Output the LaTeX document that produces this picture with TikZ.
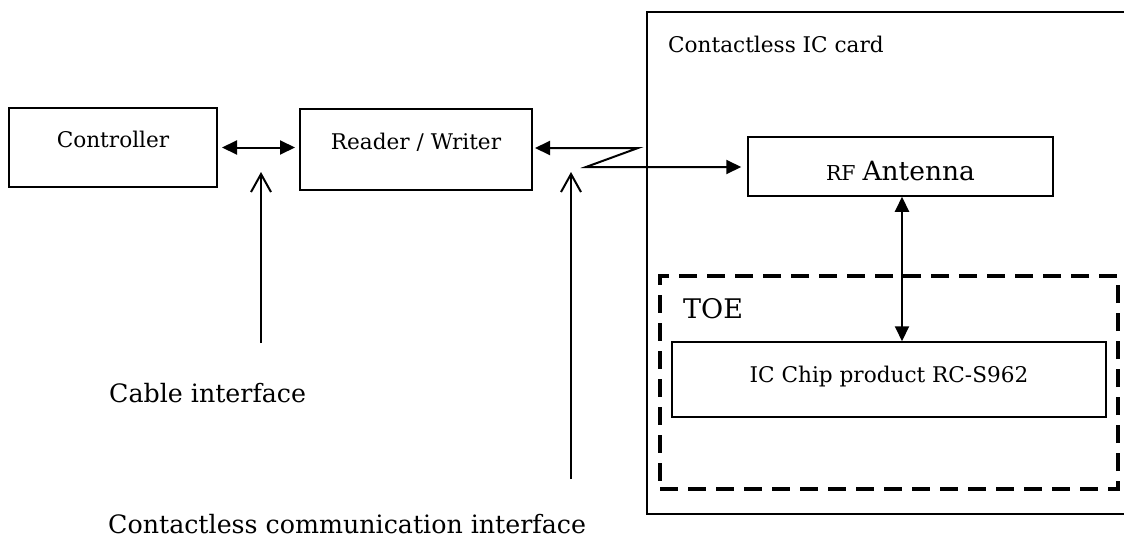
\documentclass[tikz,border=0pt]{standalone}
\usepackage{fontspec}
\setmainfont{DejaVu Serif}
\usetikzlibrary{positioning,arrows.meta}
\tikzset{
	>={Triangle[length=15pt,width=14pt]}
}

\begin{document}
\begin{tikzpicture}[
x = 1pt, y = -1pt,
every node/.style = {
	inner sep = 0pt,
	font = \fontsize{21.6}{26}\selectfont
},
block/.style = {
	draw,
	line width = 2pt
},
bigtext/.style = {
	font = \fontsize{25.3}{30}\selectfont
},
link/.style = {
	line width = 2pt
},
pointer/.style = {
	line width = 2pt,
	-{Straight Barb[length=18pt,width=20pt,line width=2pt]}
}
]

\useasboundingbox (0,0) rectangle (1124,538);

% card and TOE
\node (card) [block, minimum width=483pt, minimum height=502pt] at (888.5,263) {};
\node (cardtitle) [anchor=base west] at (668,52) {Contactless IC card};
\node (toe) [draw, line width=3.5pt, dash pattern=on 18pt off 10pt, minimum width=458pt, minimum height=213pt] at (889,382.5) {};
\node (toetitle) [font=\fontsize{27}{32}\selectfont, anchor=base west] at (683,318) {TOE};

\node (ctrl) [block, minimum width=208pt, minimum height=79pt, text height=16pt, text depth=16pt] at (113,147.5) {Controller};
\node (rw) [block, minimum width=232pt, minimum height=81pt, text height=16pt, text depth=16pt] at (416,149.5) {Reader / Writer};
\node (rf) [block, line width=1.5pt, minimum width=305pt, minimum height=59pt, text height=27pt, text depth=0pt] at (900.5,166.5) {{\fontsize{20.5}{25}\selectfont RF} \fontsize{26.5}{32}\selectfont Antenna};
\node (chip) [block, line width=1.5pt, minimum width=434pt, minimum height=75pt, text height=20pt, text depth=15pt] at (889,379.5) {IC Chip product RC-S962};

\coordinate (bend1) at (638,148);
\coordinate (bend2) at (586,167);
\coordinate (cabletip) at (261,172);
\coordinate (cablefoot) at (261,343);
\coordinate (commtip) at (571,172);
\coordinate (commfoot) at (571,479);

\draw[link, <->, shorten <=4pt, shorten >=4pt] (ctrl.east) -- (ctrl.east -| rw.west);
\draw[link, <->, shorten <=2pt, shorten >=6pt] (bend1 -| rw.east) -- (bend1) -- (bend2) -- (bend2 -| rf.west);
\draw[link, <->] ([xshift=1.5pt]rf.south) -- ([xshift=1.5pt]rf.south |- chip.north);

% interfaces
\draw[pointer] (cablefoot) -- (cabletip);
\draw[pointer] (commfoot) -- (commtip);
\node (cablelabel) [bigtext, anchor=base west] at (109,402) {Cable interface};
\node (commlabel) [bigtext, anchor=base west] at (108,533) {Contactless communication interface};

\end{tikzpicture}
\end{document}
